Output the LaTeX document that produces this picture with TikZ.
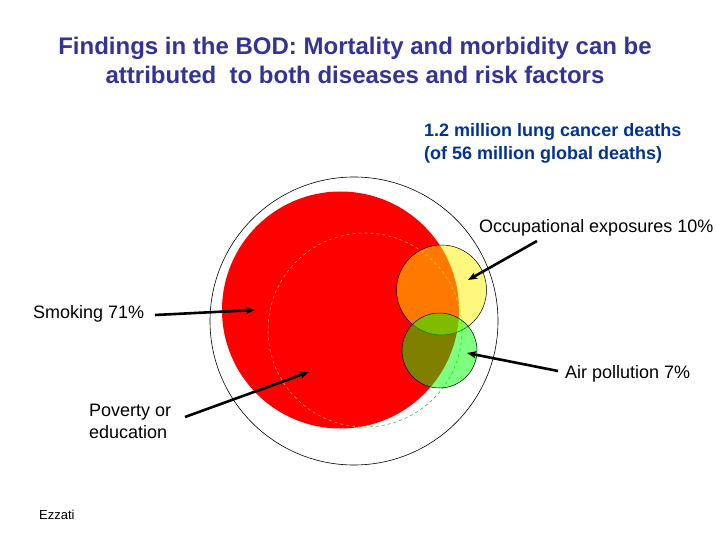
\documentclass[tikz,border=0pt]{standalone}
\usepackage{fontspec}
\setmainfont{Liberation Sans}
\usetikzlibrary{arrows.meta}
\definecolor{titleblue}{RGB}{51,51,153}
\definecolor{subblue}{RGB}{0,51,153}
\definecolor{dashor}{RGB}{235,170,40}
\definecolor{dashgr}{RGB}{60,190,60}
\tikzset{
  lbl/.style={anchor=west,inner sep=0pt,font=\fontsize{18}{22}\selectfont,align=left},
  ptr/.style={line width=2.6pt,-{Stealth[length=9pt,width=7pt,inset=2pt]}},
  thin ring/.style={draw=black,line width=0.6pt},
}
\begin{document}
\begin{tikzpicture}[x=1pt,y=-1pt]
\useasboundingbox[fill=white] (0,0) rectangle (720,540);
% title
\node[inner sep=0pt,align=center,text=titleblue,font=\bfseries\fontsize{24}{29}\selectfont] (title) at (355,60.5)
  {Findings in the BOD: Mortality and morbidity can be\\attributed\ \ to both diseases and risk factors};
\node[lbl,text=subblue,font=\bfseries\fontsize{18}{23}\selectfont] (sub) at (424,143.5)
  {1.2 million lung cancer deaths\\(of 56 million global deaths)};
% circles
\draw[thin ring] (354,321) circle[radius=144pt];
\draw[dashgr,dashed,line width=0.6pt] (365,330) circle[radius=97pt];
\fill[red] (340.5,310) circle[radius=118.5pt];
\begin{scope}
  \clip (340.5,310) circle[radius=118.5pt];
  \draw[dashor,dashed,line width=0.6pt] (365,330) circle[radius=97pt];
\end{scope}
\fill[yellow,fill opacity=0.5] (441.5,290) circle[radius=45pt];
\draw[line width=0.5pt] (441.5,290) circle[radius=45pt];
\fill[green,fill opacity=0.5] (439.5,350.5) circle[radius=37.5pt];
\draw[line width=0.5pt] (439.5,350.5) circle[radius=37.5pt];
% labels
\node[lbl] (occ) at (479,228) {Occupational exposures 10\%};
\node[lbl] (smk) at (33,314) {Smoking 71\%};
\node[lbl] (air) at (565,374) {Air pollution 7\%};
\node[lbl] (pov) at (89,421) {Poverty or\\education};
\node[anchor=west,inner sep=0pt,font=\fontsize{13}{15}\selectfont] (ezz) at (39,515) {Ezzati};
% arrow ends
\coordinate (occT) at (537,241);
\coordinate (occH) at (468,280);
\coordinate (smkT) at (155,315);
\coordinate (smkH) at (255,310);
\coordinate (airT) at (558,371);
\coordinate (airH) at (467,353);
\coordinate (povT) at (185,417);
\coordinate (povH) at (309,372);
\draw[ptr] (occT) -- (occH);
\draw[ptr] (smkT) -- (smkH);
\draw[ptr] (airT) -- (airH);
\draw[ptr] (povT) -- (povH);
\end{tikzpicture}
\end{document}
